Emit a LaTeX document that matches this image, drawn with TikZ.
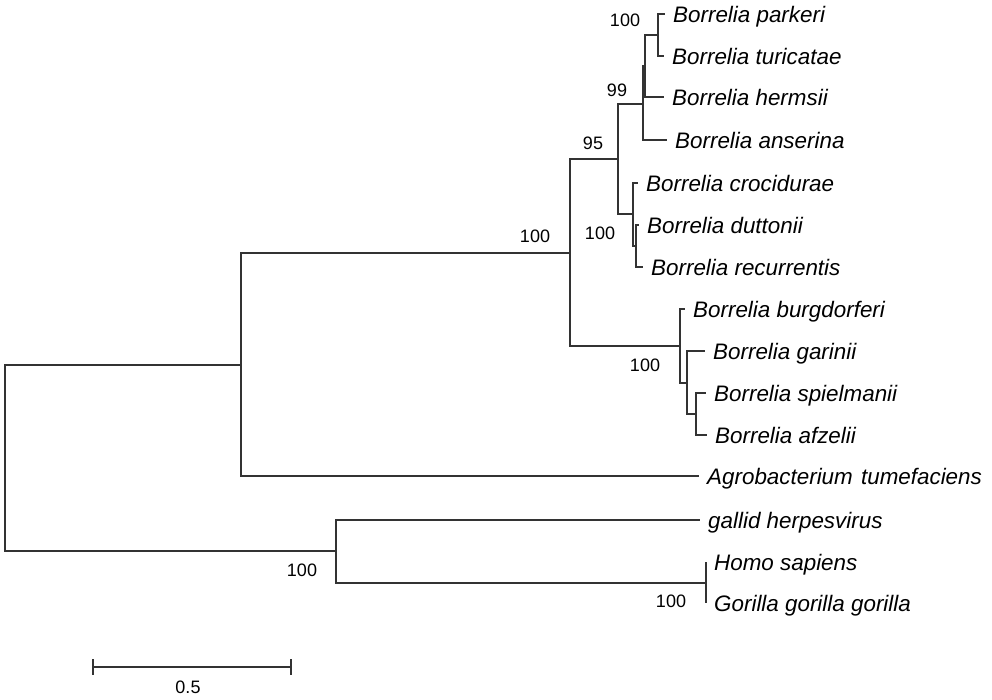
\documentclass[tikz,border=0pt]{standalone}
\usepackage{fontspec}
\setmainfont{Liberation Sans}
\usetikzlibrary{positioning}

\tikzset{
  branch/.style={draw=black!80, line width=1.3pt},
  taxon/.style={anchor=west, inner xsep=8pt, inner ysep=0pt, text height=16pt, text depth=0pt,
    font=\fontsize{22.4}{26}\selectfont\itshape},
  boot/.style={inner sep=0pt, font=\fontsize{18}{21}\selectfont},
}

\begin{document}
\begin{tikzpicture}[x=1pt, y=-1pt]
        \useasboundingbox (0,0) rectangle (992,699);

        % inner nodes
        \coordinate (root) at (5, 458);
        \coordinate (nA) at (241, 365);
        \coordinate (nB) at (570, 253);
        \coordinate (nC) at (618, 159);
        \coordinate (nF) at (643, 104);
        \coordinate (nH) at (645, 66);
        \coordinate (nG) at (658, 35);
        \coordinate (nI) at (633, 214);
        \coordinate (nJ) at (636, 246);
        \coordinate (nK) at (680, 346);
        \coordinate (nL) at (687, 383);
        \coordinate (nM) at (696, 414);
        \coordinate (nD) at (336, 551);
        \coordinate (nE) at (706, 583);

        % taxa
        \node[taxon] at (665, 14)(parkeri){Borrelia parkeri};
        \node[taxon] at (664, 56)(turicatae){Borrelia turicatae};
        \node[taxon] at (664, 97)(hermsii){Borrelia hermsii};
        \node[taxon] at (667, 140)(anserina){Borrelia anserina};
        \node[taxon] at (638, 183)(crocidurae){Borrelia crocidurae};
        \node[taxon] at (639, 225)(duttonii){Borrelia duttonii};
        \node[taxon] at (643, 267)(recurrentis){Borrelia recurrentis};
        \node[taxon] at (685, 309)(burgdorferi){Borrelia burgdorferi};
        \node[taxon] at (705, 351)(garinii){Borrelia garinii};
        \node[taxon] at (706, 393)(spielmanii){Borrelia spielmanii};
        \node[taxon] at (707, 435)(afzelii){Borrelia afzelii};
        \node[taxon] at (699, 476)(agro){Agrobacterium\hspace{2pt} tumefaciens};
        \node[taxon] at (700, 520)(gallid){gallid herpesvirus};
        \node[taxon] at (706, 562)(homo){Homo sapiens};
        \node[taxon] at (706, 603)(gorilla){Gorilla gorilla gorilla};

        % bootstrap values
        \node[boot] at (625, 20)(bG){100};
        \node[boot] at (617, 90)(bF){99};
        \node[boot] at (593, 143)(bC){95};
        \node[boot] at (535, 236)(bB){100};
        \node[boot] at (600, 233)(bI){100};
        \node[boot] at (645, 365)(bK){100};
        \node[boot] at (302, 570)(bD){100};
        \node[boot] at (671, 601)(bE){100};

        \draw[branch]
            (root) |- (nA)  (root) |- (nD)
            (nA) |- (nB)  (nA) |- (agro.west)
            (nB) |- (nC)  (nB) |- (nK)
            (nC) |- (nF)  (nC) |- (nI)
            (nF) |- (nH)  (nF) |- (anserina.west)
            (nH) |- (nG)  (nH) |- (hermsii.west)
            (nG) |- (parkeri.west)  (nG) |- (turicatae.west)
            (nI) |- (crocidurae.west)  (nI) |- (nJ)
            (nJ) |- (duttonii.west)  (nJ) |- (recurrentis.west)
            (nK) |- (burgdorferi.west)  (nK) |- (nL)
            (nL) |- (garinii.west)  (nL) |- (nM)
            (nM) |- (spielmanii.west)  (nM) |- (afzelii.west)
            (nD) |- (gallid.west)  (nD) |- (nE)
            (nE) |- (homo.west)  (nE) |- (gorilla.west)
            ;

        % scale bar
        \coordinate (sbl) at (93, 667);
        \coordinate (sbr) at (291, 667);
        \draw[branch] (sbl) -- (sbr)
            (sbl) ++(0, -8) -- ++(0, 16)
            (sbr) ++(0, -8) -- ++(0, 16);
        \node[boot] at (188, 687)(sblabel){0.5};
    \end{tikzpicture}
\end{document}
